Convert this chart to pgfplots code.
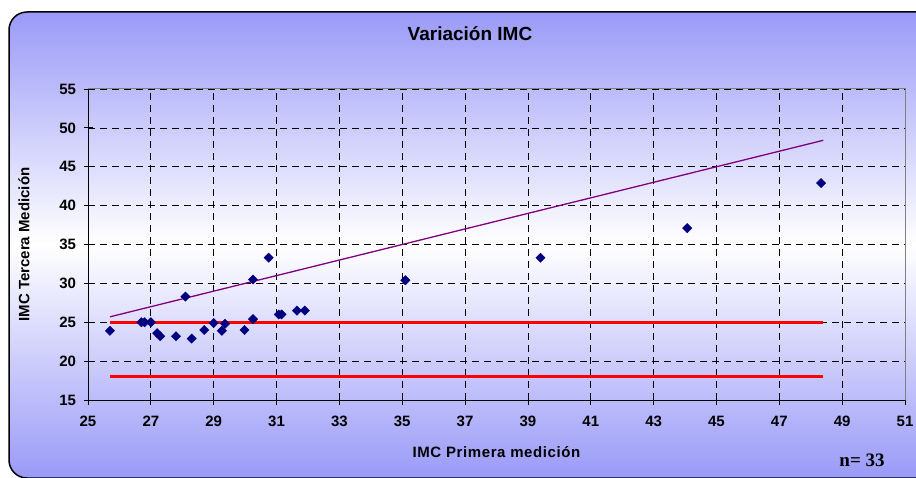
\documentclass[border=0pt]{standalone}
\usepackage{pgfplots}
\pgfplotsset{compat=1.18}
\usepackage{fontspec}
\setmainfont{Liberation Sans}
\newfontfamily\timesfont{Liberation Serif}
\definecolor{bgblue}{RGB}{154,154,248}
\definecolor{navy}{RGB}{0,0,128}
\definecolor{purp}{RGB}{128,0,128}
\begin{document}
\begin{tikzpicture}[x=1pt,y=1pt]
\useasboundingbox (0,0) rectangle (916,477);
\begin{scope}
\clip (0,0) rectangle (916,477);
\shade[top color=bgblue, bottom color=bgblue, middle color=white, rounded corners=18pt] (9,-1) rectangle (940,465);
\draw[black, line width=1.5pt, rounded corners=18pt] (9,-1) rectangle (940,465);
\end{scope}
\node[anchor=base, font=\fontsize{19}{22}\selectfont\bfseries] at (470,436) {Variación IMC};
\begin{axis}[
  at={(88pt,77pt)}, anchor=south west, scale only axis,
  width=817pt, height=311pt,
  xmin=25, xmax=51, ymin=15, ymax=55,
  xtick={25,27,...,51}, ytick={15,20,...,55},
  grid=major, grid style={black, dash pattern=on 7pt off 5pt, line width=0.7pt},
  axis x line*=bottom, axis y line*=left,
  axis line style={black, line width=1pt, -},
  tick align=center, major tick length=9pt, tick style={black, line width=0.8pt},
  /pgf/number format/assume math mode=true,
  tick label style={font=\fontsize{15}{15}\selectfont\bfseries},
  x tick label style={yshift=-8pt},
  y tick label style={xshift=-4pt},
  xlabel={IMC Primera medición},
  ylabel={IMC Tercera Medición},
  xlabel style={at={(axis description cs:0.5,0)}, anchor=base, yshift=-57.7pt, font=\fontsize{15}{15}\selectfont\bfseries\addfontfeature{LetterSpace=4}},
  ylabel style={at={(axis description cs:-0.07834,0.5)}, anchor=center, font=\fontsize{15}{15}\selectfont\bfseries},
  clip=false,
]
\addplot[purp, line width=1.3pt] coordinates {(25.7,25.7) (48.4,48.4)};
\addplot[red, line width=3pt] coordinates {(25.7,25) (48.4,25)};
\addplot[red, line width=3pt] coordinates {(25.7,18) (48.4,18)};
\addplot[only marks, mark=square*, mark size=3.3pt, mark options={rotate=45, fill=navy, draw=navy}] coordinates {
(25.7,23.9) (26.7,25.0) (26.8,25.0) (27.0,25.0) (27.2,23.6) (27.3,23.2)
(27.8,23.2) (28.1,28.3) (28.3,22.9) (28.7,24.0) (29.0,24.9) (29.26,23.9)
(29.36,24.8) (29.98,24.0) (30.25,30.5) (30.25,25.4) (30.75,33.3) (31.07,26.0)
(31.16,26.0) (31.65,26.5) (31.9,26.5) (35.1,30.4) (39.4,33.3) (44.07,37.1)
(48.33,42.9)
};
\draw[gray, line width=1pt] (rel axis cs:0,1) -- (rel axis cs:1,1) -- (rel axis cs:1,0);
\end{axis}
\node[anchor=base, font=\fontsize{19}{22}\selectfont\bfseries\timesfont] at (862,11) {n= 33};
\end{tikzpicture}
\end{document}
